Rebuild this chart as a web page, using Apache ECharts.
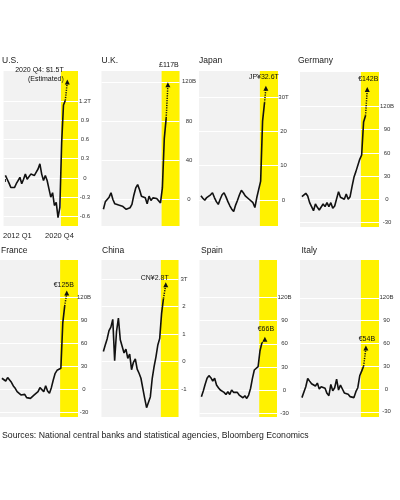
<!DOCTYPE html>
<html><head><meta charset="utf-8">
<script src="https://cdn.jsdelivr.net/npm/echarts@6/dist/echarts.min.js"></script>
<style>html,body{margin:0;padding:0;background:#fff}#c{width:400px;height:500px}</style>
</head><body><div id="c"></div>
<script>
// ---------- data ----------
const panelNames = ['U.S.', 'U.K.', 'Japan', 'Germany', 'France', 'China', 'Spain', 'Italy'];
// quarter index: 0 = 2012 Q1
const quarters = [0,1,2,3,4,5,6,7,8,9,10,11,12,13,14,15,16,17,18,19,20,21,22,23,24,25,26,27,28,29,30,31,32,33];
const usSavings = [0.04,-0.02,-0.08,-0.15,-0.12,-0.15,-0.09,-0.04,0.01,-0.09,-0.02,0.06,-0.02,-0.04,0.06,0.09,0.04,0.09,0.14,0.22,0.06,-0.04,0.04,-0.04,-0.17,-0.30,-0.23,-0.43,-0.38,-0.62,-0.46,0.55,1.14,1.21];
const ukSavings = [-10,-2.4,-1.7,2.4,6.8,0,-4.4,-5,-5.7,-5,-6.8,-8.4,-10,-11.8,-8.4,-5,4.4,11.8,15.2,10,3.4,5,1.7,-4.4,3.4,-1,1.7,0,1,1,-3.4,11.8,62,83];
const japanSavings = [1.2,0.5,-0.1,0.7,0.5,1.5,2.1,0.7,-0.5,-1.3,0.2,1.5,2.1,0.9,-0.5,-1.7,-2.7,-3.4,-1.5,-0.1,1.5,2.8,2.1,1.2,1.5,0.2,-0.3,-0.8,-2.2,0.7,1.2,5.5,23,28.3];
const germanySavings = [3.4,5.6,7.8,4.3,-4.3,-9.5,-14.7,-6,-10.3,-13.8,-11.6,-6,-9.5,-4.3,-9.5,-4.3,-11.6,-8.6,-9.5,9.9,2.6,3.4,0,6.9,0,3.4,16.4,28.4,35.8,37,51.7,57.3,100,108];
const franceSavings = [14,16,10.4,14.8,14,8.7,3.9,0.9,-3.5,-1.7,-7.8,-8.7,-7,-11.3,-10.4,-12.2,-10,-7.8,-8.7,-3.5,1.7,0,-3.5,4.3,-2.6,-5.7,1.7,11.7,20.4,24.3,24.3,27,86,108];
const chinaSavings = [0.37,0.61,0.83,1.13,1.26,1.54,0.04,1.1,1.59,0.8,0.73,0.32,0.46,0.12,0.28,-0.29,-0.02,0.1,-0.27,-0.42,-0.6,-0.97,-1.33,-1.67,-1.73,-1.28,-0.61,-0.18,0.18,0.61,0.85,1.76,2.3];
const spainSavings = [-8.7,-1.3,7.4,15.2,18.7,16,11.7,15.2,6.5,3,0,1.3,-3,-5.7,-2.2,-5.7,0,-3,-4.3,-3,-6.5,-5.7,-10,-7.4,-10.9,-6.5,2,15.2,26,24,30.4,51,61];
const italySavings = [-11.3,-8.7,3,13.9,10.4,7,6,3.9,7.8,0,3,0.9,0.9,-5.7,-8.7,6,-2.2,1.7,13,-1.3,5.2,0,-5.2,-7.4,-7,-10,-10.9,-11.3,-3.5,1.7,17.4,23.5,30];
const estimateQuarter = [34.1, 33.9, 33.7, 33.9, 34.1, 33.2, 33.6, 33.2];
const estimateValue = [1.5, 117, 32.6, 142, 125, 2.8, 66, 54];
const estimateLabel = ['2020 Q4: $1.5T\n(Estimated)', '£117B', 'JP¥32.6T', '€142B', '€125B', 'CN¥2.8T', '€66B', '€54B'];
const yTickValues = [
  [-0.6, -0.3, 0, 0.3, 0.6, 0.9, 1.2],
  [0, 40, 80, 120],
  [0, 10, 20, 30],
  [-30, 0, 30, 60, 90, 120],
  [-30, 0, 30, 60, 90, 120],
  [-1, 0, 1, 2, 3],
  [-30, 0, 30, 60, 90, 120],
  [-30, 0, 30, 60, 90, 120]
];
const yTickUnit = ['T', 'B', 'T', 'B', 'B', 'T', 'B', 'B'];
const xTickQuarters = [0, 35];
const xTickLabels = ['2012 Q1', '2020 Q4'];
const highlightQuarters = [30.6, 40];
const sourceNote = 'Sources: National central banks and statistical agencies, Bloomberg Economics';

const seriesValues = [usSavings, ukSavings, japanSavings, germanySavings, franceSavings, chinaSavings, spainSavings, italySavings];

// ---------- layout ----------
const gridLeft = [-1, 101.5, 199, 300, -1, 101.5, 199.5, 300];
const gridWidth = [79, 78, 79, 79, 79, 77, 77.5, 79];
const gridTop = [71, 71, 71, 72, 260, 260, 260, 260];
const gridHeight = [155, 155, 155, 155, 157, 157, 157, 157];
const yRange = [[-0.75, 1.67], [-27, 131], [-7.6, 37.6], [-35.8, 164.6], [-36.5, 168], [-2.01, 3.7], [-35, 168.8], [-36.8, 169.7]];
const labelMargin = [7, 9.5, 5.5, 8, 6, 5.5, 7.5, 7.5];
const titleLeft = [2, 101.5, 199, 298, 1, 102, 201, 301.5];
const titleTop = [56, 56, 56, 56, 246, 246, 246, 246];
const estLabelCfg = [
  {position: 'left', distance: 1, offset: [0, -7], lineHeight: 9},
  {position: 'top', distance: 3, offset: [1, -11]},
  {position: 'top', distance: 5, offset: [-2, 0]},
  {position: 'top', distance: 4, offset: [1, 0]},
  {position: 'top', distance: 2, offset: [-3, 0]},
  {position: 'top', distance: 1, align: 'right', offset: [3, 0]},
  {position: 'top', distance: 4, offset: [1, 0]},
  {position: 'top', distance: 3, offset: [1, 0]}
];
const FONT = '"Liberation Sans", Arial, sans-serif';

const grids = [], xAxes = [], yAxes = [], series = [], titles = [];
panelNames.forEach((name, i) => {
  grids.push({left: gridLeft[i], top: gridTop[i], width: gridWidth[i], height: gridHeight[i],
    show: true, backgroundColor: '#f2f2f2', borderWidth: 0, containLabel: false});
  titles.push({text: name, left: titleLeft[i], top: titleTop[i], padding: 0,
    textStyle: {fontSize: 8.5, fontWeight: 'normal', color: '#1a1a1a', fontFamily: FONT}});
  const isUS = i === 0;
  xAxes.push({gridIndex: i, type: 'value', min: -1, max: 40, show: isUS,
    axisLine: {show: false}, splitLine: {show: false},
    axisTick: {show: isUS, customValues: xTickQuarters, length: 4, lineStyle: {color: '#333', width: 1}},
    axisLabel: {show: isUS, customValues: xTickQuarters, margin: 6, color: '#222', fontFamily: FONT,
      formatter: v => {
        const k = xTickQuarters.indexOf(v);
        return k === 0 ? '{a|' + xTickLabels[k] + '}' : '{b|' + xTickLabels[k] + '}';
      },
      rich: {a: {fontSize: 7.5, padding: [0, 0, 0, 24], fontFamily: FONT, color: '#222'},
             b: {fontSize: 7.5, padding: [0, 19, 0, 0], fontFamily: FONT, color: '#222'}}}
  });
  const ticks = yTickValues[i];
  const topTick = ticks[ticks.length - 1];
  yAxes.push({gridIndex: i, type: 'value', position: 'right', min: yRange[i][0], max: yRange[i][1], z: 2,
    axisLine: {show: false},
    axisTick: {show: false, customValues: ticks},
    splitLine: {show: true, lineStyle: {color: '#ffffff', width: 1}},
    axisLabel: {customValues: ticks, margin: labelMargin[i], align: 'center', fontSize: 6, color: '#333', fontFamily: FONT,
      formatter: v => (v === topTick ? String(v) + yTickUnit[i] : String(v))}
  });
  // 2020 highlight band
  series.push({type: 'line', xAxisIndex: i, yAxisIndex: i, data: [], z: 1, silent: true,
    markArea: {silent: true, itemStyle: {color: '#fff200'},
      data: [[{xAxis: highlightQuarters[0]}, {xAxis: highlightQuarters[1]}]]}});
  const vals = seriesValues[i];
  series.push({type: 'line', xAxisIndex: i, yAxisIndex: i, z: 5, silent: true,
    symbol: 'none', lineStyle: {color: '#111', width: 1.6}, animation: false,
    data: vals.map((v, k) => [quarters[k], v])});
  const lastK = vals.length - 1;
  series.push({type: 'line', xAxisIndex: i, yAxisIndex: i, z: 5, silent: true, animation: false,
    symbol: 'none', lineStyle: {color: '#111', width: 1.5, type: [1.2, 1.2]},
    data: [[quarters[lastK], vals[lastK]],
      {value: [estimateQuarter[i], estimateValue[i]], symbol: 'triangle', symbolSize: [5, 5],
        itemStyle: {color: '#111'},
        label: Object.assign({show: true, formatter: estimateLabel[i], fontSize: 7, color: '#111', fontFamily: FONT}, estLabelCfg[i])}]
  });
});
titles.push({text: sourceNote, left: 2, top: 431, padding: 0,
  textStyle: {fontSize: 8.7, fontWeight: 'normal', color: '#222', fontFamily: FONT}});

const chart = echarts.init(document.getElementById('c'), null, {renderer: 'canvas'});
chart.setOption({animation: false, backgroundColor: '#ffffff', title: titles, grid: grids, xAxis: xAxes, yAxis: yAxes, series: series});
</script>
</body></html>
